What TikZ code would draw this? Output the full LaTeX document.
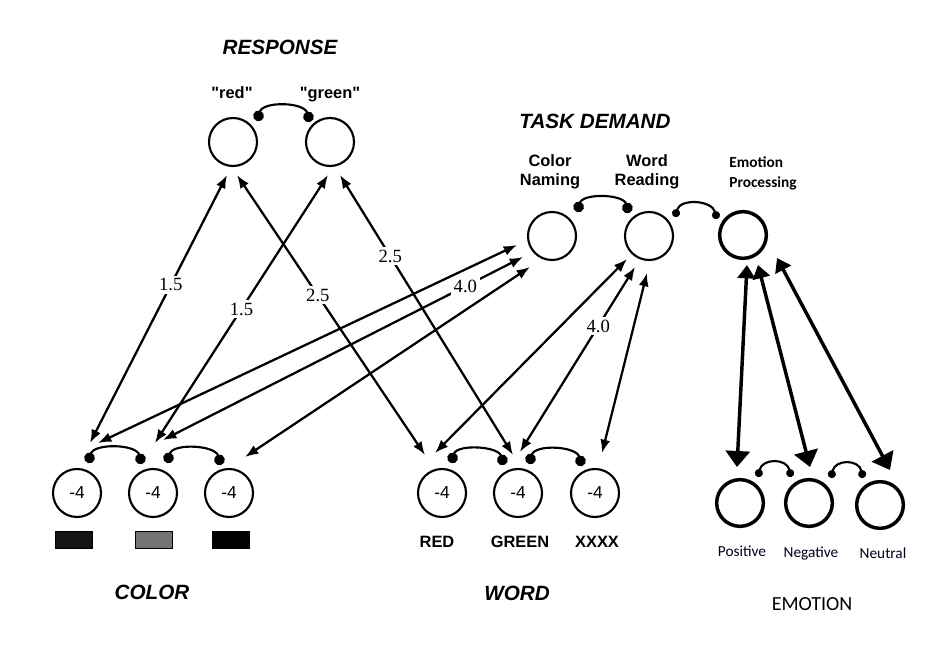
\documentclass[tikz,border=0pt]{standalone}
\usepackage{fontspec}
\newfontfamily\helfont{Liberation Sans}
\newfontfamily\numfont{Liberation Serif}
\newfontfamily\calfont{Carlito}
\usetikzlibrary{arrows.meta,calc}

\tikzset{every picture/.style={line width=1.5pt}}
\tikzset{
  unit/.style={circle, draw, line width=1.6pt, minimum size=36pt, inner sep=0pt, font=\helfont\fontsize{13}{14}\selectfont},
  emounit/.style={unit, line width=2.6pt, minimum size=35pt},
  link/.style={{Latex[length=10pt,width=7.5pt]}-{Latex[length=10pt,width=7.5pt]}, line width=1.7pt},
  emolink/.style={{Triangle[length=10pt,width=13pt]}-{Triangle[length=12pt,width=18pt]}, line width=2.6pt},
  inhib/.style={{Circle[length=8pt]}-{Circle[length=8pt]}, line width=1.6pt},
  inhibsm/.style={{Circle[length=6pt]}-{Circle[length=6pt]}, line width=1.6pt},
  weight/.style={fill=white, inner sep=2pt, font=\numfont\fontsize{14}{15}\selectfont},
  title/.style={font=\helfont\bfseries\itshape\fontsize{15.5}{18}\selectfont},
  unitname/.style={font=\helfont\bfseries\fontsize{12.3}{14.25}\selectfont, align=center},
  emoname/.style={font=\calfont\fontsize{11.5}{15}\selectfont, text=black!90!blue, anchor=base},
  swatch/.style={draw, line width=1pt, minimum width=28pt, minimum height=13pt, inner sep=0pt}
}

\begin{document}
\begin{tikzpicture}[x=0.75pt,y=0.75pt,yscale=-1,xscale=1]
\useasboundingbox (0,0) rectangle (942,666);
%Shape: Circle (response)
\node[unit] (red) at (233,142) {};
\node[unit] (green) at (330,142) {};
%Shape: Circle (task demand)
\node[unit] (cname) at (552,236) {};
\node[unit] (wread) at (649,236) {};
\node[emounit] (emop) at (743,235) {};
%Shape: Circle (color)
\node[unit] (col1) at (77,493) {-4};
\node[unit] (col2) at (153,493) {-4};
\node[unit] (col3) at (229,493) {-4};
%Shape: Circle (word)
\node[unit] (wred) at (442,493) {-4};
\node[unit] (wgreen) at (518,493) {-4};
\node[unit] (wxxxx) at (595,493) {-4};
%Shape: Circle (emotion)
\node[emounit] (positive) at (740,503) {};
\node[emounit] (negative) at (809,503) {};
\node[emounit] (neutral) at (880,505) {};
%Shape: Rectangle
\node[swatch, fill=black!92] (sw1) at (74,540) {};
\node[swatch, fill=black!55] (sw2) at (154,540) {};
\node[swatch, fill=black] (sw3) at (231,540) {};

%Curve Lines (inhibition)
\draw[inhib] ($(red)+(24,-21)$) .. controls +(6,-20) and +(-6,-20) .. ($(green)+(-20,-20)$);
\draw[inhib] ($(cname)+(25,-24)$) .. controls +(6,-19) and +(-6,-19) .. ($(wread)+(-20,-23)$);
\draw[inhibsm] ($(wread)+(26,-19)$) .. controls +(5,-19) and +(-5,-19) .. ($(emop)+(-26,-16)$);
\draw[inhib] ($(col1)+(11,-30)$) .. controls +(6,-20) and +(-6,-20) .. ($(col2)+(-11,-29)$);
\draw[inhib] ($(col2)+(14,-30)$) .. controls +(6,-20) and +(-6,-20) .. ($(col3)+(-8,-28)$);
\draw[inhib] ($(wred)+(9,-30)$) .. controls +(6,-19) and +(-6,-19) .. ($(wgreen)+(-14,-28)$);
\draw[inhib] ($(wgreen)+(11,-29)$) .. controls +(6,-20) and +(-6,-20) .. ($(wxxxx)+(-13,-27)$);
\draw[inhibsm] ($(positive)+(18,-26)$) .. controls +(4,-19) and +(-4,-19) .. ($(negative)+(-18,-26)$);
\draw[inhibsm] ($(negative)+(22,-25)$) .. controls +(4,-19) and +(-4,-19) .. ($(neutral)+(-17,-27)$);

%Straight Lines (response)
\draw[link] ($(red)+(-6,33)$) -- node[weight,pos=0.41] {1.5} ($(col1)+(13,-50)$);
\draw[link] ($(red)+(4,33)$) -- node[weight,pos=0.43] {2.5} ($(wred)+(-17,-38)$);
\draw[link] ($(green)+(-2,33)$) -- node[weight,pos=0.50] {1.5} ($(col2)+(2,-50)$);
\draw[link] ($(green)+(10,33)$) -- node[weight,pos=0.29] {2.5} ($(wgreen)+(-5,-38)$);
%Straight Lines (task demand)
\draw[link] ($(cname)+(-35,9)$) -- ($(col1)+(21,-50)$);
\draw[link] ($(cname)+(-29,21)$) -- node[weight,pos=0.16] {4.0} ($(col2)+(10,-53)$);
\draw[link] ($(cname)+(-22,31)$) -- ($(col3)+(16,-36)$);
\draw[link] ($(wread)+(-22,23)$) -- ($(wred)+(-7,-40)$);
\draw[link] ($(wread)+(-14,31)$) -- node[weight,pos=0.32] {4.0} ($(wgreen)+(2,-41)$);
\draw[link] ($(wread)+(-2,37)$) -- ($(wxxxx)+(7,-40)$);
%Straight Lines (emotion)
\draw[emolink] ($(emop)+(4,30)$) -- ($(positive)+(-3,-36)$);
\draw[emolink] ($(emop)+(15,30)$) -- ($(negative)+(1,-36)$);
\draw[emolink] ($(emop)+(34,23)$) -- ($(neutral)+(10,-35)$);

% Text Node
\node[title] (ttlresp) at (280,47) {RESPONSE};
\node[unitname, anchor=base] (lblred) at (232,99) {"red"};
\node[unitname, anchor=base] (lblgreen) at (330,99) {"green"};
\node[title] (ttltask) at (595,121) {TASK DEMAND};
\node[unitname] (lblcname) at (550,172) {Color\\Naming};
\node[unitname] (lblwread) at (647,172) {Word\\Reading};
\node[font=\calfont\bfseries\fontsize{11.5}{15}\selectfont, align=left] (lblemop) at (763,173) {Emotion\\Processing};
\node[unitname] (lblwred) at (437,542) {RED};
\node[unitname] (lblwgreen) at (520,542) {GREEN};
\node[unitname] (lblwxxxx) at (597,542) {XXXX};
\node[emoname] (lblpos) at (742,556) {Positive};
\node[emoname] (lblneg) at (811,557) {Negative};
\node[emoname] (lblneu) at (883,558) {Neutral};
\node[title] (ttlcolor) at (152,592) {COLOR};
\node[title] (ttlword) at (517,593) {WORD};
\node[font=\calfont\fontsize{15}{18}\selectfont] (ttlemo) at (812,604) {EMOTION};
\end{tikzpicture}
\end{document}
